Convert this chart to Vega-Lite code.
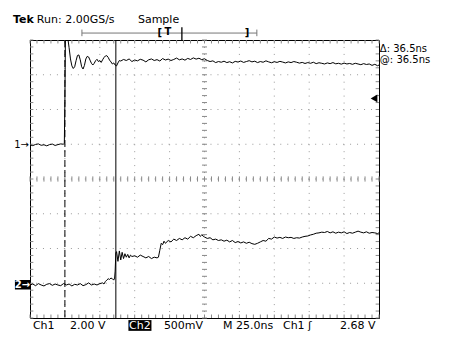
{
"$schema":"https://vega.github.io/schema/vega-lite/v6.json",
"width":349,"height":278,
"autosize":{"type":"none"},
"padding":{"left":30,"top":40,"right":70,"bottom":21},
"background":"white",
"config":{"view":{"stroke":"#000","strokeWidth":1},"text":{"font":"DejaVu Sans","fontSize":11}},
"resolve":{"scale":{"y":"independent"}},
"datasets":{
"ch1":[{"t":-25,"v":0.0},{"t":-23,"v":-0.04},{"t":-21,"v":0.03},{"t":-19,"v":0.06},{"t":-17,"v":-0.02},{"t":-15,"v":0.01},{"t":-13,"v":-0.05},{"t":-11,"v":0.02},{"t":-9,"v":0.05},{"t":-7,"v":-0.03},{"t":-5,"v":0.02},{"t":-3,"v":0.06},{"t":-1,"v":0.04},{"t":-0.4,"v":0.1},{"t":0,"v":2.5},{"t":0.4,"v":6.5},{"t":1,"v":6.4},{"t":2,"v":6.2},{"t":3,"v":5.6},{"t":4,"v":4.95},{"t":5,"v":4.55},{"t":6,"v":4.4},{"t":7,"v":4.5},{"t":8,"v":4.85},{"t":9,"v":5.15},{"t":10,"v":5.18},{"t":11,"v":4.9},{"t":12,"v":4.5},{"t":13,"v":4.37},{"t":14,"v":4.58},{"t":15,"v":4.95},{"t":16,"v":5.1},{"t":17,"v":5.06},{"t":18,"v":4.88},{"t":19,"v":4.7},{"t":20,"v":4.6},{"t":21,"v":4.7},{"t":22,"v":4.85},{"t":23,"v":4.93},{"t":24,"v":4.8},{"t":25,"v":4.86},{"t":26,"v":4.75},{"t":27,"v":4.9},{"t":28,"v":5.03},{"t":29,"v":5.12},{"t":30,"v":5.14},{"t":31,"v":5.04},{"t":32,"v":4.88},{"t":33,"v":4.78},{"t":34,"v":4.66},{"t":35,"v":4.72},{"t":36,"v":4.6},{"t":37,"v":4.55},{"t":38,"v":4.72},{"t":39,"v":4.86},{"t":40,"v":4.83},{"t":42,"v":4.92},{"t":44,"v":4.86},{"t":46,"v":4.95},{"t":48,"v":4.8},{"t":50,"v":4.89},{"t":52,"v":4.84},{"t":54,"v":4.93},{"t":56,"v":4.88},{"t":58,"v":4.78},{"t":60,"v":4.9},{"t":62,"v":4.95},{"t":64,"v":4.86},{"t":66,"v":4.91},{"t":68,"v":4.83},{"t":70,"v":4.97},{"t":72,"v":4.89},{"t":74,"v":4.94},{"t":76,"v":4.86},{"t":78,"v":4.92},{"t":80,"v":5.0},{"t":82,"v":4.9},{"t":84,"v":4.95},{"t":86,"v":4.88},{"t":88,"v":4.98},{"t":90,"v":4.92},{"t":92,"v":5.01},{"t":94,"v":4.94},{"t":96,"v":4.99},{"t":98,"v":4.91},{"t":100,"v":4.96},{"t":102,"v":4.86},{"t":104,"v":4.8},{"t":106,"v":4.84},{"t":108,"v":4.74},{"t":110,"v":4.8},{"t":112,"v":4.76},{"t":114,"v":4.82},{"t":116,"v":4.74},{"t":118,"v":4.79},{"t":120,"v":4.72},{"t":122,"v":4.81},{"t":124,"v":4.77},{"t":126,"v":4.83},{"t":128,"v":4.75},{"t":130,"v":4.8},{"t":132,"v":4.85},{"t":134,"v":4.78},{"t":136,"v":4.82},{"t":138,"v":4.74},{"t":140,"v":4.8},{"t":142,"v":4.76},{"t":144,"v":4.84},{"t":146,"v":4.78},{"t":148,"v":4.73},{"t":150,"v":4.79},{"t":152,"v":4.75},{"t":154,"v":4.81},{"t":156,"v":4.77},{"t":158,"v":4.72},{"t":160,"v":4.78},{"t":162,"v":4.74},{"t":164,"v":4.8},{"t":166,"v":4.76},{"t":168,"v":4.71},{"t":170,"v":4.75},{"t":172,"v":4.69},{"t":174,"v":4.74},{"t":176,"v":4.7},{"t":178,"v":4.76},{"t":180,"v":4.68},{"t":182,"v":4.73},{"t":184,"v":4.7},{"t":186,"v":4.66},{"t":188,"v":4.72},{"t":190,"v":4.68},{"t":192,"v":4.74},{"t":194,"v":4.67},{"t":196,"v":4.7},{"t":198,"v":4.65},{"t":200,"v":4.71},{"t":202,"v":4.66},{"t":204,"v":4.69},{"t":206,"v":4.64},{"t":208,"v":4.7},{"t":210,"v":4.66},{"t":212,"v":4.62},{"t":214,"v":4.68},{"t":216,"v":4.63},{"t":218,"v":4.66},{"t":220,"v":4.58},{"t":222,"v":4.64},{"t":224,"v":4.56},{"t":225,"v":4.6}],
"ch2":[{"t":-25,"v":0.0},{"t":-23,"v":0.014},{"t":-21,"v":-0.01},{"t":-19,"v":0.02},{"t":-17,"v":0.0},{"t":-15,"v":-0.014},{"t":-13,"v":0.01},{"t":-11,"v":0.02},{"t":-9,"v":-0.005},{"t":-7,"v":0.014},{"t":-5,"v":0.0},{"t":-3,"v":-0.01},{"t":-1,"v":0.02},{"t":1,"v":0.0},{"t":3,"v":0.014},{"t":5,"v":-0.014},{"t":7,"v":0.01},{"t":9,"v":0.0},{"t":11,"v":0.02},{"t":13,"v":-0.01},{"t":15,"v":0.005},{"t":17,"v":0.03},{"t":19,"v":0.0},{"t":21,"v":0.014},{"t":23,"v":0.0},{"t":25,"v":0.02},{"t":27,"v":0.03},{"t":28,"v":0.014},{"t":29,"v":0.05},{"t":30,"v":0.07},{"t":31,"v":0.09},{"t":32,"v":0.08},{"t":33,"v":0.1},{"t":34,"v":0.09},{"t":35,"v":0.07},{"t":35.6,"v":0.1},{"t":36,"v":0.2},{"t":36.5,"v":0.46},{"t":37,"v":0.48},{"t":38,"v":0.34},{"t":39,"v":0.49},{"t":40,"v":0.36},{"t":41,"v":0.47},{"t":42,"v":0.38},{"t":43,"v":0.45},{"t":44,"v":0.4},{"t":45,"v":0.44},{"t":46,"v":0.39},{"t":47,"v":0.43},{"t":48,"v":0.41},{"t":50,"v":0.42},{"t":52,"v":0.4},{"t":54,"v":0.43},{"t":56,"v":0.41},{"t":58,"v":0.39},{"t":60,"v":0.41},{"t":62,"v":0.38},{"t":64,"v":0.4},{"t":66,"v":0.39},{"t":67,"v":0.4},{"t":68,"v":0.5},{"t":69,"v":0.6},{"t":70,"v":0.58},{"t":71,"v":0.63},{"t":72,"v":0.6},{"t":74,"v":0.64},{"t":76,"v":0.62},{"t":78,"v":0.66},{"t":80,"v":0.64},{"t":82,"v":0.67},{"t":84,"v":0.65},{"t":86,"v":0.68},{"t":88,"v":0.66},{"t":90,"v":0.7},{"t":92,"v":0.68},{"t":94,"v":0.71},{"t":96,"v":0.73},{"t":97,"v":0.7},{"t":98,"v":0.72},{"t":100,"v":0.69},{"t":102,"v":0.67},{"t":104,"v":0.68},{"t":106,"v":0.65},{"t":108,"v":0.66},{"t":110,"v":0.64},{"t":112,"v":0.65},{"t":114,"v":0.63},{"t":116,"v":0.645},{"t":118,"v":0.62},{"t":120,"v":0.64},{"t":122,"v":0.61},{"t":124,"v":0.625},{"t":126,"v":0.605},{"t":128,"v":0.62},{"t":130,"v":0.6},{"t":132,"v":0.615},{"t":134,"v":0.595},{"t":136,"v":0.585},{"t":138,"v":0.6},{"t":140,"v":0.62},{"t":142,"v":0.64},{"t":144,"v":0.63},{"t":146,"v":0.67},{"t":148,"v":0.66},{"t":150,"v":0.69},{"t":152,"v":0.675},{"t":154,"v":0.685},{"t":156,"v":0.67},{"t":158,"v":0.69},{"t":160,"v":0.68},{"t":162,"v":0.685},{"t":164,"v":0.67},{"t":166,"v":0.68},{"t":168,"v":0.675},{"t":170,"v":0.69},{"t":172,"v":0.7},{"t":174,"v":0.705},{"t":176,"v":0.72},{"t":178,"v":0.73},{"t":180,"v":0.745},{"t":182,"v":0.75},{"t":184,"v":0.76},{"t":186,"v":0.755},{"t":188,"v":0.77},{"t":190,"v":0.75},{"t":192,"v":0.765},{"t":194,"v":0.745},{"t":196,"v":0.76},{"t":198,"v":0.75},{"t":200,"v":0.765},{"t":202,"v":0.74},{"t":204,"v":0.755},{"t":206,"v":0.745},{"t":208,"v":0.76},{"t":210,"v":0.775},{"t":212,"v":0.76},{"t":214,"v":0.75},{"t":216,"v":0.765},{"t":218,"v":0.745},{"t":220,"v":0.755},{"t":222,"v":0.75},{"t":224,"v":0.74},{"t":225,"v":0.75}],
"gridT":[{"t":0},{"t":25},{"t":50},{"t":75},{"t":100},{"t":125},{"t":150},{"t":175},{"t":200}],
"gridD":[{"d":-3},{"d":-2},{"d":-1},{"d":0},{"d":1},{"d":2},{"d":3}],
"minorT":[{"t":-25},{"t":-20},{"t":-15},{"t":-10},{"t":-5},{"t":0},{"t":5},{"t":10},{"t":15},{"t":20},{"t":25},{"t":30},{"t":35},{"t":40},{"t":45},{"t":50},{"t":55},{"t":60},{"t":65},{"t":70},{"t":75},{"t":80},{"t":85},{"t":90},{"t":95},{"t":100},{"t":105},{"t":110},{"t":115},{"t":120},{"t":125},{"t":130},{"t":135},{"t":140},{"t":145},{"t":150},{"t":155},{"t":160},{"t":165},{"t":170},{"t":175},{"t":180},{"t":185},{"t":190},{"t":195},{"t":200},{"t":205},{"t":210},{"t":215},{"t":220},{"t":225}],
"minorD":[{"d":-4},{"d":-3.8},{"d":-3.6},{"d":-3.4},{"d":-3.2},{"d":-3},{"d":-2.8},{"d":-2.6},{"d":-2.4},{"d":-2.2},{"d":-2},{"d":-1.8},{"d":-1.6},{"d":-1.4},{"d":-1.2},{"d":-1},{"d":-0.8},{"d":-0.6},{"d":-0.4},{"d":-0.2},{"d":0},{"d":0.2},{"d":0.4},{"d":0.6},{"d":0.8},{"d":1},{"d":1.2},{"d":1.4},{"d":1.6},{"d":1.8},{"d":2},{"d":2.2},{"d":2.4},{"d":2.6},{"d":2.8},{"d":3},{"d":3.2},{"d":3.4},{"d":3.6},{"d":3.8},{"d":4}],
"labels":[{"t":-20.1,"d":4.48,"txt":"Run: 2.00GS/s"},{"t":52.3,"d":4.48,"txt":"Sample"},{"t":-22.9,"d":-4.32,"txt":"Ch1"},{"t":3.6,"d":-4.32,"txt":"2.00 V"},{"t":70.9,"d":-4.32,"txt":"500mV"},{"t":113.2,"d":-4.32,"txt":"M 25.0ns"},{"t":156.2,"d":-4.32,"txt":"Ch1"},{"t":174.1,"d":-4.32,"txt":"ʃ"},{"t":197.0,"d":-4.32,"txt":"2.68 V"}],
"cursorLabels":[{"t":225.6,"d":3.66,"txt":"Δ: 36.5ns"},{"t":225.6,"d":3.33,"txt":"@: 36.5ns"}]
},
"layer":[
{"data":{"name":"gridT"},"mark":{"type":"rule","color":"#9a9a9a","strokeWidth":1,"strokeDash":[1,5.95]},
 "encoding":{"x":{"field":"t","type":"quantitative","scale":{"domain":[-25,225],"nice":false,"zero":false},"axis":null}}},
{"data":{"name":"gridD"},"mark":{"type":"rule","color":"#9a9a9a","strokeWidth":1,"strokeDash":[1,5.98]},
 "encoding":{"y":{"field":"d","type":"quantitative","scale":{"domain":[-4,4],"nice":false,"zero":false},"axis":null}}},
{"data":{"name":"minorT"},"mark":{"type":"rule","color":"#888","strokeWidth":1},
 "encoding":{"x":{"field":"t","type":"quantitative","scale":{"domain":[-25,225],"nice":false,"zero":false},"axis":null},
  "y":{"datum":-0.075,"type":"quantitative","scale":{"domain":[-4,4],"nice":false,"zero":false},"axis":null},"y2":{"datum":0.075}}},
{"data":{"name":"minorD"},"mark":{"type":"rule","color":"#888","strokeWidth":1},
 "encoding":{"y":{"field":"d","type":"quantitative","scale":{"domain":[-4,4],"nice":false,"zero":false},"axis":null},
  "x":{"datum":98.2,"type":"quantitative","scale":{"domain":[-25,225],"nice":false,"zero":false},"axis":null},"x2":{"datum":101.8}}},
{"data":{"name":"minorT"},"mark":{"type":"rule","color":"#888","strokeWidth":1},
 "encoding":{"x":{"field":"t","type":"quantitative","scale":{"domain":[-25,225],"nice":false,"zero":false},"axis":null},
  "y":{"datum":4,"type":"quantitative","scale":{"domain":[-4,4],"nice":false,"zero":false},"axis":null},"y2":{"datum":3.9}}},
{"data":{"name":"minorT"},"mark":{"type":"rule","color":"#888","strokeWidth":1},
 "encoding":{"x":{"field":"t","type":"quantitative","scale":{"domain":[-25,225],"nice":false,"zero":false},"axis":null},
  "y":{"datum":-4,"type":"quantitative","scale":{"domain":[-4,4],"nice":false,"zero":false},"axis":null},"y2":{"datum":-3.9}}},
{"data":{"name":"minorD"},"mark":{"type":"rule","color":"#888","strokeWidth":1},
 "encoding":{"y":{"field":"d","type":"quantitative","scale":{"domain":[-4,4],"nice":false,"zero":false},"axis":null},
  "x":{"datum":-25,"type":"quantitative","scale":{"domain":[-25,225],"nice":false,"zero":false},"axis":null},"x2":{"datum":-22.6}}},
{"data":{"name":"minorD"},"mark":{"type":"rule","color":"#888","strokeWidth":1},
 "encoding":{"y":{"field":"d","type":"quantitative","scale":{"domain":[-4,4],"nice":false,"zero":false},"axis":null},
  "x":{"datum":225,"type":"quantitative","scale":{"domain":[-25,225],"nice":false,"zero":false},"axis":null},"x2":{"datum":222.6}}},
{"data":{"values":[{"t":0}]},"mark":{"type":"rule","color":"#000","strokeWidth":1,"strokeDash":[7,3]},
 "encoding":{"x":{"field":"t","type":"quantitative","scale":{"domain":[-25,225],"nice":false,"zero":false},"axis":null}}},
{"data":{"values":[{"t":36.5}]},"mark":{"type":"rule","color":"#000","strokeWidth":1},
 "encoding":{"x":{"field":"t","type":"quantitative","scale":{"domain":[-25,225],"nice":false,"zero":false},"axis":null}}},
{"data":{"name":"ch1"},"mark":{"type":"line","color":"#000","strokeWidth":1,"clip":true},
 "encoding":{"x":{"field":"t","type":"quantitative","scale":{"domain":[-25,225],"nice":false,"zero":false},"axis":null},
  "y":{"field":"v","type":"quantitative","scale":{"domain":[-9.96,6.04],"nice":false,"zero":false},"axis":null}}},
{"data":{"name":"ch2"},"mark":{"type":"line","color":"#000","strokeWidth":1,"clip":true},
 "encoding":{"x":{"field":"t","type":"quantitative","scale":{"domain":[-25,225],"nice":false,"zero":false},"axis":null},
  "y":{"field":"v","type":"quantitative","scale":{"domain":[-0.475,3.525],"nice":false,"zero":false},"axis":null}}},
{"data":{"values":[{"t":225,"v":2.68}]},"mark":{"type":"point","shape":"triangle-left","filled":true,"color":"#000","size":60,"xOffset":-5,"opacity":1},
 "encoding":{"x":{"field":"t","type":"quantitative","scale":{"domain":[-25,225],"nice":false,"zero":false},"axis":null},
  "y":{"field":"v","type":"quantitative","scale":{"domain":[-9.96,6.04],"nice":false,"zero":false},"axis":null}}},
{"data":{"values":[{"t":-25,"v":0,"txt":"1→"}]},"mark":{"type":"text","align":"right","baseline":"middle","dx":-1,"fontSize":10,"color":"#000"},
 "encoding":{"x":{"field":"t","type":"quantitative","scale":{"domain":[-25,225],"nice":false,"zero":false},"axis":null},
  "y":{"field":"v","type":"quantitative","scale":{"domain":[-9.96,6.04],"nice":false,"zero":false},"axis":null},"text":{"field":"txt"}}},
{"data":{"values":[{"t":-35.8,"t2":-25,"v":-0.065,"v2":0.072}]},"mark":{"type":"rect","color":"#000"},
 "encoding":{"x":{"field":"t","type":"quantitative","scale":{"domain":[-25,225],"nice":false,"zero":false},"axis":null},"x2":{"field":"t2"},
  "y":{"field":"v","type":"quantitative","scale":{"domain":[-0.475,3.525],"nice":false,"zero":false},"axis":null},"y2":{"field":"v2"}}},
{"data":{"values":[{"t":-30.4,"v":0,"txt":"2→"}]},"mark":{"type":"text","align":"center","baseline":"middle","fontSize":10,"fontWeight":"bold","color":"#fff"},
 "encoding":{"x":{"field":"t","type":"quantitative","scale":{"domain":[-25,225],"nice":false,"zero":false},"axis":null},
  "y":{"field":"v","type":"quantitative","scale":{"domain":[-0.475,3.525],"nice":false,"zero":false},"axis":null},"text":{"field":"txt"}}},
{"data":{"values":[{"t":12.2,"t2":137.5}]},"mark":{"type":"rule","color":"#777","strokeWidth":1},
 "encoding":{"x":{"field":"t","type":"quantitative","scale":{"domain":[-25,225],"nice":false,"zero":false},"axis":null},"x2":{"field":"t2"},
  "y":{"datum":4.2,"type":"quantitative","scale":{"domain":[-4,4],"nice":false,"zero":false},"axis":null}}},
{"data":{"values":[{"t":12.2},{"t":137.5}]},"mark":{"type":"rule","color":"#777","strokeWidth":1},
 "encoding":{"x":{"field":"t","type":"quantitative","scale":{"domain":[-25,225],"nice":false,"zero":false},"axis":null},
  "y":{"datum":4.3,"type":"quantitative","scale":{"domain":[-4,4],"nice":false,"zero":false},"axis":null},"y2":{"datum":4.11}}},
{"data":{"values":[{"t":83.8}]},"mark":{"type":"rule","color":"#000","strokeWidth":1.3},
 "encoding":{"x":{"field":"t","type":"quantitative","scale":{"domain":[-25,225],"nice":false,"zero":false},"axis":null},
  "y":{"datum":4.37,"type":"quantitative","scale":{"domain":[-4,4],"nice":false,"zero":false},"axis":null},"y2":{"datum":4.0}}},
{"data":{"values":[{"t":68,"d":4.2,"txt":"["},{"t":130.4,"d":4.2,"txt":"]"},{"t":73.8,"d":4.24,"txt":"T"}]},"mark":{"type":"text","align":"center","baseline":"middle","fontSize":10,"fontWeight":"bold","color":"#000"},
 "encoding":{"x":{"field":"t","type":"quantitative","scale":{"domain":[-25,225],"nice":false,"zero":false},"axis":null},
  "y":{"field":"d","type":"quantitative","scale":{"domain":[-4,4],"nice":false,"zero":false},"axis":null},"text":{"field":"txt"}}},
{"data":{"values":[{"t":45.5,"t2":62,"d":-4.06,"d2":-4.37}]},"mark":{"type":"rect","color":"#000"},
 "encoding":{"x":{"field":"t","type":"quantitative","scale":{"domain":[-25,225],"nice":false,"zero":false},"axis":null},"x2":{"field":"t2"},
  "y":{"field":"d","type":"quantitative","scale":{"domain":[-4,4],"nice":false,"zero":false},"axis":null},"y2":{"field":"d2"}}},
{"data":{"values":[{"t":53.75,"d":-4.32,"txt":"Ch2"}]},"mark":{"type":"text","align":"center","baseline":"alphabetic","fontSize":11,"color":"#fff"},
 "encoding":{"x":{"field":"t","type":"quantitative","scale":{"domain":[-25,225],"nice":false,"zero":false},"axis":null},
  "y":{"field":"d","type":"quantitative","scale":{"domain":[-4,4],"nice":false,"zero":false},"axis":null},"text":{"field":"txt"}}},
{"data":{"values":[{"t":-37.25,"d":4.48,"txt":"Tek"}]},"mark":{"type":"text","align":"left","baseline":"alphabetic","fontSize":11,"fontWeight":"bold","color":"#000"},
 "encoding":{"x":{"field":"t","type":"quantitative","scale":{"domain":[-25,225],"nice":false,"zero":false},"axis":null},
  "y":{"field":"d","type":"quantitative","scale":{"domain":[-4,4],"nice":false,"zero":false},"axis":null},"text":{"field":"txt"}}},
{"data":{"name":"labels"},"mark":{"type":"text","align":"left","baseline":"alphabetic","fontSize":11,"color":"#000"},
 "encoding":{"x":{"field":"t","type":"quantitative","scale":{"domain":[-25,225],"nice":false,"zero":false},"axis":null},
  "y":{"field":"d","type":"quantitative","scale":{"domain":[-4,4],"nice":false,"zero":false},"axis":null},"text":{"field":"txt"}}},
{"data":{"name":"cursorLabels"},"mark":{"type":"text","align":"left","baseline":"alphabetic","fontSize":10,"color":"#000"},
 "encoding":{"x":{"field":"t","type":"quantitative","scale":{"domain":[-25,225],"nice":false,"zero":false},"axis":null},
  "y":{"field":"d","type":"quantitative","scale":{"domain":[-4,4],"nice":false,"zero":false},"axis":null},"text":{"field":"txt"}}}
]
}
